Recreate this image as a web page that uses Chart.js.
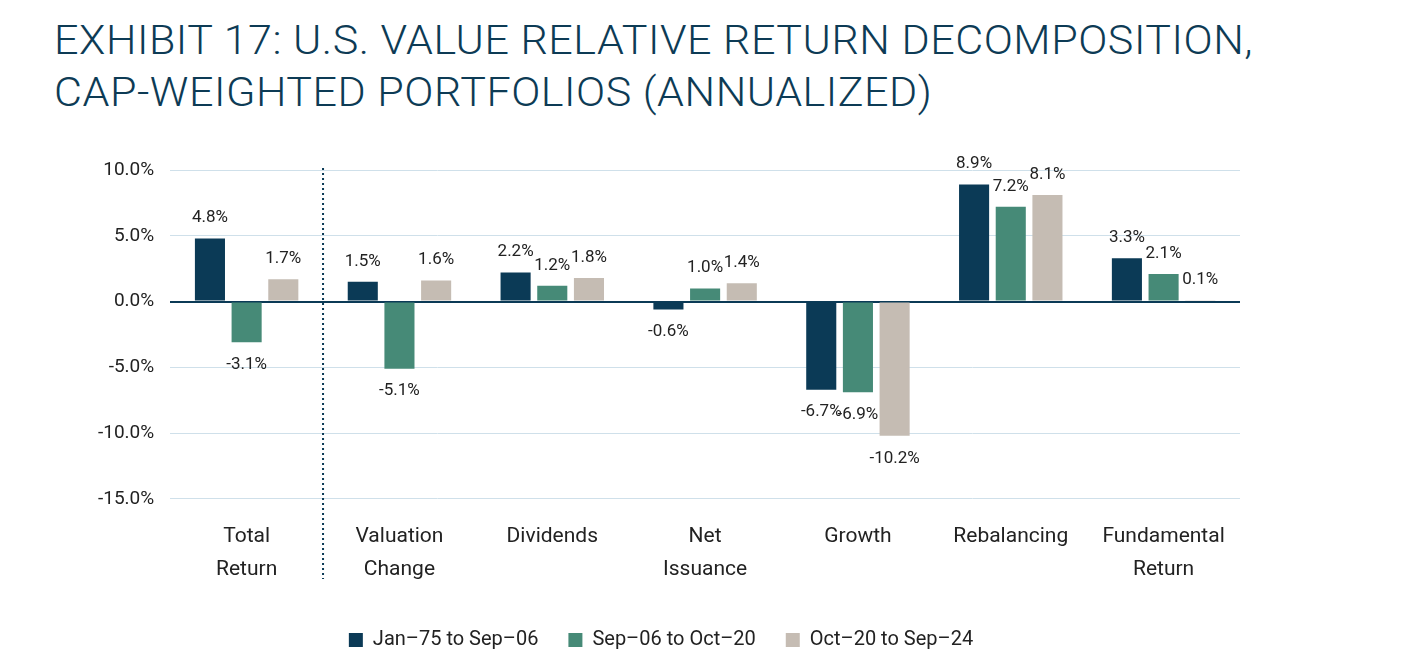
<!DOCTYPE html>
<html>
<head>
<meta charset="utf-8">
<script src="https://cdn.jsdelivr.net/npm/chart.js@4"></script>
<style>
  body { margin: 0; background: #fff; font-family: Roboto, sans-serif; }
  h1 { position: absolute; left: 54px; top: 14px; margin: 0; font-weight: 300; font-size: 41px; line-height: 52px;
       color: #0d3b55; letter-spacing: 0.5px; transform: scaleX(1.05); transform-origin: left top; white-space: nowrap; }
  #wrap { position: absolute; left: 82px; top: 140px; width: 1158px; height: 520px; }
</style>
</head>
<body>
<h1>EXHIBIT 17: U.S. VALUE RELATIVE RETURN DECOMPOSITION,<br>CAP-WEIGHTED PORTFOLIOS (ANNUALIZED)</h1>
<div id="wrap"><canvas id="chart"></canvas></div>
<script>
// Categories and series
const categories = [['Total', 'Return'], ['Valuation', 'Change'], ['Dividends'], ['Net', 'Issuance'], ['Growth'], ['Rebalancing'], ['Fundamental', 'Return']];
const period1 = [4.8, 1.5, 2.2, -0.6, -6.7, 8.9, 3.3];
const period2 = [-3.1, -5.1, 1.2, 1.0, -6.9, 7.2, 2.1];
const period3 = [1.7, 1.6, 1.8, 1.4, -10.2, 8.1, 0.1];
const seriesNames = ['Jan\u201375 to Sep\u201306', 'Sep\u201306 to Oct\u201320', 'Oct\u201320 to Sep\u201324'];
const colors = ['#0b3a56', '#468a77', '#c5bcb3'];

// Value labels above/below each bar
const valueLabels = {
    id: 'valueLabels',
    afterDatasetsDraw(chart) {
        const ctx = chart.ctx;
        ctx.save();
        ctx.font = '17px Roboto';
        ctx.fillStyle = '#222';
        ctx.textAlign = 'center';
        chart.data.datasets.forEach((ds, i) => {
            chart.getDatasetMeta(i).data.forEach((bar, j) => {
                const v = ds.data[j];
                if (v >= 0) {
                    ctx.textBaseline = 'bottom';
                    ctx.fillText(v.toFixed(1) + '%', bar.x, bar.y - 12);
                } else {
                    ctx.textBaseline = 'top';
                    ctx.fillText(v.toFixed(1) + '%', bar.x, bar.y + 14);
                }
            });
        });
        // dotted separator after first category
        const x = chart.scales.x;
        const sep = (x.getPixelForValue(0) + x.getPixelForValue(1)) / 2;
        ctx.strokeStyle = '#0b3a56';
        ctx.lineWidth = 2;
        ctx.setLineDash([2, 3]);
        ctx.beginPath();
        ctx.moveTo(sep, chart.scales.y.getPixelForValue(10) - 2);
        ctx.lineTo(sep, chart.chartArea.bottom + 80);
        ctx.stroke();
        ctx.restore();
    }
};

new Chart(document.getElementById('chart'), {
    type: 'bar',
    data: {
        labels: categories,
        datasets: [period1, period2, period3].map((d, i) => ({
            label: seriesNames[i],
            data: d,
            backgroundColor: colors[i],
            categoryPercentage: 0.72,
            barPercentage: 0.82
        }))
    },
    options: {
        responsive: true,
        maintainAspectRatio: false,
        animation: false,
        layout: { padding: { top: 30, right: 0, bottom: 0 } },
        plugins: {
            legend: {
                position: 'bottom',
                labels: { color: '#222', font: { family: 'Roboto', size: 20 }, boxWidth: 14, boxHeight: 14, padding: 30 }
            },
            tooltip: { enabled: false }
        },
        scales: {
            y: {
                min: -15, max: 10,
                ticks: { stepSize: 5, color: '#222', padding: 16, font: { family: 'Roboto', size: 19 },
                    callback: v => v.toFixed(1) + '%' },
                grid: { color: c => c.tick.value === 0 ? '#0b3a56' : '#cfe0ea', lineWidth: c => c.tick.value === 0 ? 2 : 1, drawTicks: false },
                border: { display: false }
            },
            x: {
                ticks: { color: '#222', font: { family: 'Roboto', size: 21, lineHeight: 1.55 }, padding: 14 },
                grid: { display: false },
                border: { display: false }
            }
        }
    },
    plugins: [valueLabels]
});
</script>
</body>
</html>
